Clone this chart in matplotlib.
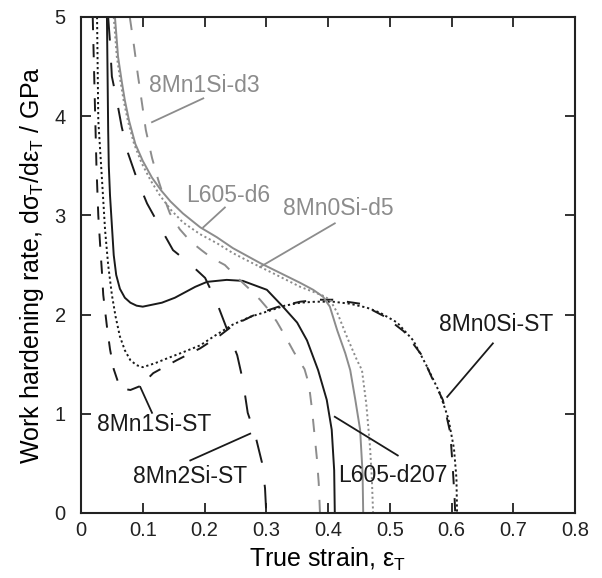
import matplotlib
matplotlib.use("Agg")
import matplotlib.pyplot as plt

plt.rcParams['font.family'] = ['Liberation Sans', 'DejaVu Sans']
plt.rcParams['mathtext.fontset'] = 'custom'
plt.rcParams['mathtext.rm'] = 'Liberation Sans'
plt.rcParams['mathtext.it'] = 'Liberation Sans:italic'
plt.rcParams['lines.scale_dashes'] = False

# ---------------- data (true strain, work hardening rate in GPa) ----------------
x_8Mn0Si_ST = [0.026, 0.028, 0.034, 0.039, 0.044, 0.050, 0.056, 0.063, 0.071, 0.080, 0.090, 0.100,
               0.120, 0.140, 0.165, 0.193, 0.220, 0.246, 0.275, 0.301, 0.330, 0.355, 0.380, 0.408,
               0.435, 0.463, 0.484, 0.512, 0.538, 0.560, 0.581, 0.595, 0.604, 0.608, 0.609]
y_8Mn0Si_ST = [5.00, 3.96, 3.36, 2.85, 2.50, 2.20, 1.98, 1.78, 1.64, 1.54, 1.49, 1.47,
               1.51, 1.56, 1.62, 1.69, 1.80, 1.90, 1.98, 2.03, 2.09, 2.12, 2.13, 2.13,
               2.11, 2.07, 2.02, 1.92, 1.74, 1.48, 1.21, 0.95, 0.65, 0.35, 0.00]

x_8Mn1Si_ST = [0.019, 0.021, 0.023, 0.025, 0.028, 0.031, 0.034, 0.036, 0.042, 0.047, 0.053, 0.060,
               0.070, 0.080, 0.096, 0.117, 0.155, 0.193, 0.225, 0.246, 0.282, 0.320, 0.355, 0.385,
               0.408, 0.452, 0.492, 0.523, 0.552, 0.570, 0.586, 0.598, 0.602, 0.605, 0.606]
y_8Mn1Si_ST = [5.00, 4.50, 4.00, 3.50, 3.00, 2.70, 2.42, 2.20, 1.88, 1.65, 1.45, 1.32,
               1.25, 1.24, 1.28, 1.41, 1.54, 1.66, 1.79, 1.89, 2.00, 2.08, 2.13, 2.15,
               2.15, 2.11, 1.98, 1.83, 1.59, 1.34, 1.14, 0.81, 0.46, 0.15, 0.00]

x_8Mn2Si_ST = [0.044, 0.047, 0.050, 0.058, 0.066, 0.076, 0.091, 0.107, 0.131, 0.149, 0.175, 0.201,
               0.220, 0.236, 0.253, 0.262, 0.270, 0.282, 0.293, 0.298, 0.300]
y_8Mn2Si_ST = [5.00, 4.74, 4.40, 4.16, 3.89, 3.63, 3.36, 3.12, 2.85, 2.65, 2.52, 2.37,
               2.12, 1.86, 1.59, 1.34, 1.01, 0.79, 0.51, 0.25, 0.00]

x_L605_d207 = [0.042, 0.044, 0.045, 0.047, 0.050, 0.053, 0.057, 0.063, 0.071, 0.080, 0.090, 0.100,
               0.131, 0.152, 0.185, 0.204, 0.236, 0.262, 0.301, 0.327, 0.350, 0.366, 0.384, 0.398,
               0.406, 0.410, 0.411]
y_L605_d207 = [5.00, 3.86, 3.50, 3.20, 2.90, 2.60, 2.40, 2.26, 2.17, 2.12, 2.09, 2.08,
               2.12, 2.17, 2.28, 2.33, 2.35, 2.34, 2.25, 2.08, 1.92, 1.74, 1.44, 1.14,
               0.84, 0.43, 0.00]

x_8Mn1Si_d3 = [0.079, 0.086, 0.092, 0.099, 0.105, 0.115, 0.125, 0.135, 0.144, 0.160, 0.177, 0.195,
               0.212, 0.233, 0.257, 0.274, 0.290, 0.301, 0.317, 0.330, 0.345, 0.355, 0.362, 0.369,
               0.374, 0.378, 0.382, 0.385, 0.387]
y_8Mn1Si_d3 = [5.00, 4.70, 4.42, 4.12, 3.86, 3.58, 3.36, 3.17, 3.02, 2.86, 2.74, 2.65,
               2.57, 2.50, 2.35, 2.25, 2.15, 2.07, 1.93, 1.79, 1.62, 1.52, 1.45, 1.30,
               1.05, 0.80, 0.55, 0.30, 0.00]

x_L605_d6 = [0.055, 0.060, 0.066, 0.071, 0.078, 0.088, 0.100, 0.115, 0.130, 0.145, 0.165, 0.193,
             0.220, 0.246, 0.290, 0.355, 0.376, 0.392, 0.403, 0.415, 0.428, 0.436, 0.444, 0.452,
             0.456, 0.457]
y_L605_d6 = [5.00, 4.60, 4.35, 4.16, 3.95, 3.72, 3.55, 3.38, 3.25, 3.14, 3.02, 2.88,
             2.78, 2.67, 2.52, 2.32, 2.25, 2.18, 2.08, 1.84, 1.61, 1.44, 1.15, 0.84,
             0.40, 0.00]

x_8Mn0Si_d5 = [0.053, 0.058, 0.064, 0.069, 0.076, 0.086, 0.098, 0.113, 0.128, 0.145, 0.165, 0.193,
               0.220, 0.246, 0.274, 0.310, 0.355, 0.376, 0.392, 0.403, 0.415, 0.431, 0.447, 0.455,
               0.462, 0.468, 0.471, 0.473]
y_8Mn0Si_d5 = [5.00, 4.60, 4.35, 4.16, 3.95, 3.72, 3.53, 3.35, 3.20, 3.06, 2.93, 2.81,
               2.72, 2.62, 2.53, 2.42, 2.28, 2.23, 2.19, 2.15, 2.02, 1.77, 1.54, 1.44,
               1.10, 0.67, 0.35, 0.00]

x_ticks = [0, 0.1, 0.2, 0.3, 0.4, 0.5, 0.6, 0.7, 0.8]
x_ticklabels = ['0', '0.1', '0.2', '0.3', '0.4', '0.5', '0.6', '0.7', '0.8']
y_ticks = [0, 1, 2, 3, 4, 5]
y_ticklabels = ['0', '1', '2', '3', '4', '5']

# labels: (text, text_x, text_y, leader_start, leader_end, colour)
label_names = ['8Mn1Si-d3', 'L605-d6', '8Mn0Si-d5', '8Mn0Si-ST', 'L605-d207', '8Mn1Si-ST', '8Mn2Si-ST']
label_pos = [(0.200, 4.31), (0.238, 3.20), (0.416, 3.07), (0.673, 1.90), (0.505, 0.38), (0.118, 0.89), (0.177, 0.37)]
leader_from = [(0.198, 4.18), (0.233, 3.08), (0.411, 2.92), (0.667, 1.71), (0.513, 0.58), (0.115, 1.01), (0.177, 0.53)]
leader_to = [(0.115, 3.94), (0.198, 2.88), (0.290, 2.48), (0.593, 1.17), (0.411, 0.97), (0.096, 1.27), (0.274, 0.80)]

GRAY = '#8c8c8c'
BLACK = '#1a1a1a'
label_colors = [GRAY, GRAY, GRAY, BLACK, BLACK, BLACK, BLACK]

fig = plt.figure(figsize=(6.02, 5.78), dpi=100)
ax = fig.add_axes([81 / 602, (578 - 513) / 578, 494 / 602, 496 / 578])

lw = 1.4
ax.plot(x_8Mn0Si_ST, y_8Mn0Si_ST, color=BLACK, lw=lw, dashes=(1.6, 2.0))
ax.plot(x_8Mn1Si_ST, y_8Mn1Si_ST, color=BLACK, lw=lw, dashes=(9.5, 10))
ax.plot(x_8Mn2Si_ST, y_8Mn2Si_ST, color=BLACK, lw=lw, dashes=(17, 16))
ax.plot(x_L605_d207, y_L605_d207, color=BLACK, lw=lw)
ax.plot(x_8Mn1Si_d3, y_8Mn1Si_d3, color=GRAY, lw=lw, dashes=(9.5, 10))
ax.plot(x_L605_d6, y_L605_d6, color=GRAY, lw=lw)
ax.plot(x_8Mn0Si_d5, y_8Mn0Si_d5, color=GRAY, lw=lw, dashes=(1.5, 2.0))

for name, pos, a, b, c in zip(label_names, label_pos, leader_from, leader_to, label_colors):
    ax.text(pos[0], pos[1], name, color=c, fontsize=16.5, ha='center', va='center')
    ax.plot([a[0], b[0]], [a[1], b[1]], color=c, lw=1.3)

ax.set_xlim(0, 0.8)
ax.set_ylim(0, 5)
ax.set_xticks(x_ticks)
ax.set_xticklabels(x_ticklabels)
ax.set_yticks(y_ticks)
ax.set_yticklabels(y_ticklabels)
ax.tick_params(direction='in', top=True, right=True, length=7, width=1.3,
               labelsize=14.5, colors='#222222')
ax.tick_params(axis='x', pad=6)
ax.tick_params(axis='y', pad=11)
for s in ax.spines.values():
    s.set_linewidth(1.5)
    s.set_color('#222222')

ax.set_xlabel('True strain, ε$_\\mathregular{T}$', fontsize=18, labelpad=4)
ax.set_ylabel('Work hardening rate, dσ$_\\mathregular{T}$/dε$_\\mathregular{T}$ / GPa', fontsize=18, labelpad=6)

fig.savefig('out.png', dpi=100)
